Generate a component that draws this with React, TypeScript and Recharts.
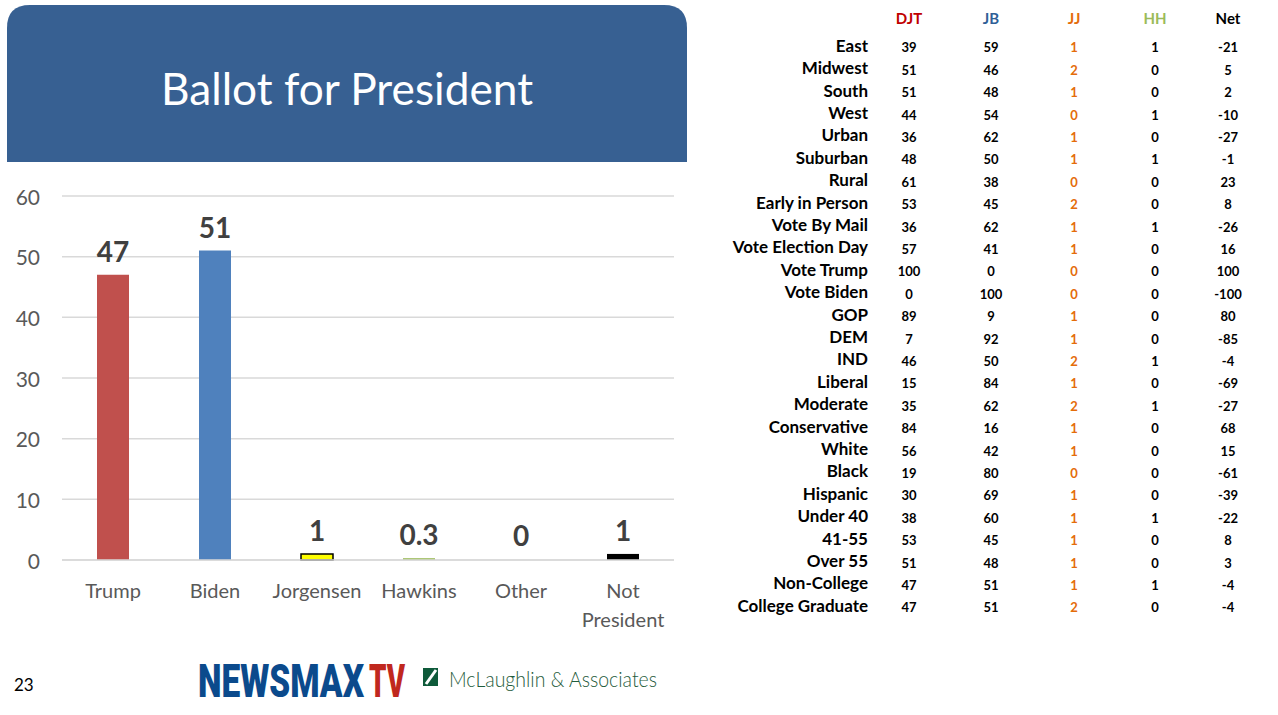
import React from "react";
import { Bar, BarChart, CartesianGrid, Cell, LabelList, XAxis, YAxis } from "recharts";

const categories = ["Trump", "Biden", "Jorgensen", "Hawkins", "Other", "Not President"];
const ballot = [47, 51, 1, 0.3, 0, 1];
const yTicks = [0, 10, 20, 30, 40, 50, 60];

const groups = [
  "East", "Midwest", "South", "West", "Urban", "Suburban", "Rural", "Early in Person",
  "Vote By Mail", "Vote Election Day", "Vote Trump", "Vote Biden", "GOP", "DEM", "IND",
  "Liberal", "Moderate", "Conservative", "White", "Black", "Hispanic", "Under 40",
  "41-55", "Over 55", "Non-College", "College Graduate",
];
const djt = [39, 51, 51, 44, 36, 48, 61, 53, 36, 57, 100, 0, 89, 7, 46, 15, 35, 84, 56, 19, 30, 38, 53, 51, 47, 47];
const jb = [59, 46, 48, 54, 62, 50, 38, 45, 62, 41, 0, 100, 9, 92, 50, 84, 62, 16, 42, 80, 69, 60, 45, 48, 51, 51];
const jj = [1, 2, 1, 0, 1, 1, 0, 2, 1, 1, 0, 0, 1, 1, 2, 1, 2, 1, 1, 0, 1, 1, 1, 1, 1, 2];
const hh = [1, 0, 0, 1, 0, 1, 0, 0, 1, 0, 0, 0, 0, 0, 1, 0, 1, 0, 0, 0, 0, 1, 0, 0, 1, 0];
const net = [-21, 5, 2, -10, -27, -1, 23, 8, -26, 16, 100, -100, 80, -85, -4, -69, -27, 68, 15, -61, -39, -22, 8, 3, -4, -4];

const barFills = ["#C0504D", "#4F81BD", "#FFFF00", "#9BBB59", "none", "#000000"];
const FONT = "Lato, 'Open Sans', sans-serif";

const columns = [
  { title: "DJT", values: djt, x: 909, head: "#C00000", color: "#000" },
  { title: "JB", values: jb, x: 991, head: "#2F5F97", color: "#000" },
  { title: "JJ", values: jj, x: 1074, head: "#E46C0A", color: "#E46C0A" },
  { title: "HH", values: hh, x: 1155, head: "#9BBB59", color: "#000" },
  { title: "Net", values: net, x: 1228, head: "#000", color: "#000" },
];

function CategoryTick(props: any) {
  const { x, y, payload } = props;
  const label: string = payload.value;
  const lines = label.length > 10 ? label.split(" ") : [label];
  return (
    <g>
      {lines.map((l, i) => (
        <text
          key={i}
          x={x}
          y={y + 22 + i * 29}
          textAnchor="middle"
          dominantBaseline="central"
          fontSize={20}
          fontFamily={FONT}
          fill="#595959"
        >
          {l}
        </text>
      ))}
    </g>
  );
}

function ValueTick(props: any) {
  const { y, payload } = props;
  return (
    <text x={40} y={y} textAnchor="end" dominantBaseline="central" fontSize={21} fontFamily={FONT} fill="#595959">
      {payload.value}
    </text>
  );
}

export default function App() {
  const data = categories.map((name, i) => ({ name, value: ballot[i] }));

  return (
    <div
      style={{
        position: "absolute",
        left: 0,
        top: 0,
        width: 1278,
        height: 715,
        background: "#fff",
        fontFamily: FONT,
        overflow: "hidden",
      }}
    >
      <svg width={700} height={170} style={{ position: "absolute", left: 0, top: 0 }}>
        <path d="M7 162 V28 Q7 5 30 5 H664 Q687 5 687 28 V162 Z" fill="#376092" />
        <text
          x={347}
          y={105}
          textAnchor="middle"
          fontSize={44}
          fontFamily={FONT}
          fill="#fff"
          textLength={372}
          lengthAdjust="spacingAndGlyphs"
        >
          Ballot for President
        </text>
      </svg>

      <div style={{ position: "absolute", left: 0, top: 170 }}>
        <BarChart width={690} height={470} data={data} margin={{ top: 26, right: 16, left: 0, bottom: 0 }}>
          <CartesianGrid vertical={false} stroke="#D9D9D9" strokeWidth={1.5} />
          <YAxis
            domain={[0, 60]}
            ticks={yTicks}
            width={62}
            axisLine={false}
            tickLine={false}
            tick={<ValueTick />}
          />
          <XAxis
            dataKey="name"
            height={80}
            axisLine={{ stroke: "#D9D9D9", strokeWidth: 1.5 }}
            tickLine={false}
            interval={0}
            tick={<CategoryTick />}
          />
          <Bar dataKey="value" barSize={32} minPointSize={1} isAnimationActive={false}>
            {data.map((d, i) => (
              <Cell
                key={d.name}
                fill={barFills[i]}
                stroke={i === 2 ? "#000" : "none"}
                strokeWidth={i === 2 ? 1.5 : 0}
              />
            ))}
            <LabelList
              dataKey="value"
              position="top"
              offset={13}
              style={{ fontSize: 28, fontWeight: 700, fill: "#404040", fontFamily: FONT }}
            />
          </Bar>
        </BarChart>
      </div>

      {columns.map((c) => (
        <div
          key={c.title}
          style={{
            position: "absolute",
            left: c.x - 40,
            width: 80,
            top: 8,
            lineHeight: "20px",
            textAlign: "center",
            fontWeight: 700,
            fontSize: 15,
            color: c.head,
          }}
        >
          {c.title}
        </div>
      ))}

      {groups.map((g, i) => (
        <React.Fragment key={g}>
          <div
            style={{
              position: "absolute",
              left: 660,
              width: 208,
              top: 45.7 + i * 22.4 - 10,
              lineHeight: "20px",
              textAlign: "right",
              fontWeight: 700,
              fontSize: 17,
              color: "#000",
              whiteSpace: "nowrap",
            }}
          >
            {g}
          </div>
          {columns.map((c) => (
            <div
              key={c.title}
              style={{
                position: "absolute",
                left: c.x - 30,
                width: 60,
                top: 47.3 + i * 22.4 - 9,
                lineHeight: "18px",
                textAlign: "center",
                fontWeight: 700,
                fontSize: 13,
                color: c.color,
              }}
            >
              {c.values[i]}
            </div>
          ))}
        </React.Fragment>
      ))}

      <svg width={700} height={75} style={{ position: "absolute", left: 0, top: 640 }}>
        <text x={14} y={51} fontSize={17} fontFamily={FONT} fill="#000">
          23
        </text>
        <g transform="translate(198 57) scale(1 1.45)">
          <text
            x={0}
            y={0}
            fontSize={32}
            fontWeight={900}
            fontFamily="Roboto, sans-serif"
            fill="#0B4A8C"
            textLength={166}
            lengthAdjust="spacingAndGlyphs"
          >
            NEWSMAX
          </text>
        </g>
        <g transform="translate(369 57) scale(1 1.45)">
          <text
            x={0}
            y={0}
            fontSize={32}
            fontWeight={900}
            fontFamily="Roboto, sans-serif"
            fill="#C0281E"
            textLength={36}
            lengthAdjust="spacingAndGlyphs"
          >
            TV
          </text>
        </g>
        <rect x={423} y={28} width={15} height={18} fill="#0E5A3A" />
        <path d="M426 44 L436 30" stroke="#fff" strokeWidth={3} />
        <text
          x={449}
          y={47}
          fontSize={22}
          fontWeight={300}
          fontFamily={FONT}
          fill="#1F5C3C"
          textLength={208}
          lengthAdjust="spacingAndGlyphs"
        >
          McLaughlin &amp; Associates
        </text>
      </svg>
    </div>
  );
}
